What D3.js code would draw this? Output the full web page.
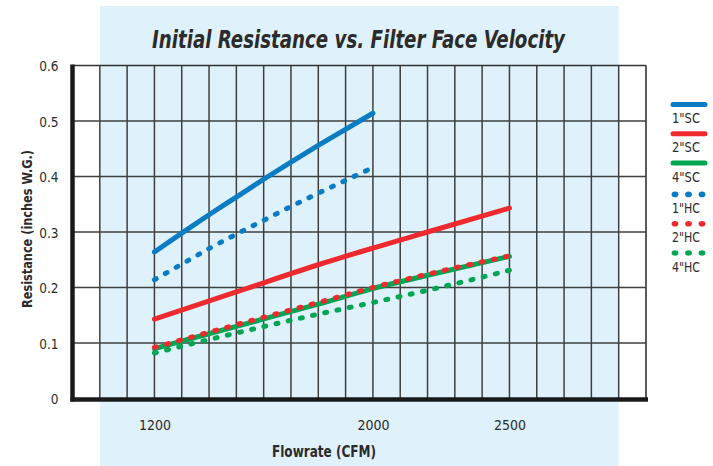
<!DOCTYPE html>
<html><head><meta charset="utf-8">
<script src="https://cdn.jsdelivr.net/npm/d3@7"></script>
<style>
html,body{margin:0;padding:0;background:#fff;}
svg{display:block;}
text{font-family:"Liberation Sans Narrow","DejaVu Sans Condensed","Roboto Condensed","Open Sans",sans-serif;fill:#2b2b2b;}
</style></head>
<body>
<svg id="chart" width="713" height="466"></svg>
<script>
const titleText = "Initial Resistance vs. Filter Face Velocity";
const xTitle = "Flowrate (CFM)";
const yTitle = "Resistance (inches W.G.)";
const xTickLabels = [1200, 2000, 2500];
const yTickLabels = [0, 0.1, 0.2, 0.3, 0.4, 0.5, 0.6];

const flowSC1 = [1200, 1300, 1400, 1500, 1600, 1700, 1800, 1900, 2000];
const sc1 = [0.264, 0.298, 0.331, 0.363, 0.395, 0.426, 0.456, 0.485, 0.514];
const flowHC1 = [1200, 1300, 1400, 1500, 1600, 1700, 1800, 1900, 2000];
const hc1 = [0.214, 0.242, 0.270, 0.296, 0.321, 0.346, 0.370, 0.393, 0.416];
const flowLong = [1200, 1500, 1800, 2000, 2200, 2500];
const sc2 = [0.143, 0.192, 0.241, 0.271, 0.300, 0.343];
const sc4 = [0.090, 0.130, 0.170, 0.198, 0.222, 0.256];
const hc2 = [0.092, 0.133, 0.173, 0.200, 0.224, 0.257];
const hc4 = [0.082, 0.118, 0.152, 0.173, 0.195, 0.231];

const seriesNames = ['1"SC', '2"SC', '4"SC', '1"HC', '2"HC', '4"HC'];
const seriesColors = ["#0a7cc4", "#ee2a2f", "#00a651", "#0a7cc4", "#ee2a2f", "#00a651"];
const seriesDotted = [false, false, false, true, true, true];

const series = [
  {x: flowSC1, y: sc1}, {x: flowLong, y: sc2}, {x: flowLong, y: sc4},
  {x: flowHC1, y: hc1}, {x: flowLong, y: hc2}, {x: flowLong, y: hc4}
];

const svg = d3.select("#chart");
const x = d3.scaleLinear().domain([900, 3000]).range([72.5, 646]);
const y = d3.scaleLinear().domain([0, 0.6]).range([398.5, 65.5]);

// light blue backdrop
svg.append("rect").attr("x", x(1000)).attr("y", 6)
  .attr("width", x(2900) - x(1000)).attr("height", 460).attr("fill", "#dff1fb");

// grid
const g = svg.append("g");
g.selectAll("line.v").data(d3.range(1000, 3000, 100)).join("line")
  .attr("x1", d => x(d)).attr("x2", d => x(d)).attr("y1", y(0.6)).attr("y2", y(0))
  .attr("stroke", "#3f3f3f").attr("stroke-width", 1.5);
g.selectAll("line.h").data(d3.range(1, 6).map(i => i / 10)).join("line")
  .attr("x1", x(900)).attr("x2", x(3000)).attr("y1", d => y(d)).attr("y2", d => y(d))
  .attr("stroke", "#3f3f3f").attr("stroke-width", 1.5);
// frame top/right
g.append("line").attr("x1", x(900)).attr("x2", x(3000)).attr("y1", y(0.6)).attr("y2", y(0.6))
  .attr("stroke", "#333").attr("stroke-width", 1.6);
g.append("line").attr("x1", x(3000)).attr("x2", x(3000)).attr("y1", y(0.6)).attr("y2", y(0))
  .attr("stroke", "#333").attr("stroke-width", 1.6);

// y axis
const yAxis = d3.axisLeft(y).tickValues(yTickLabels).tickSize(0).tickPadding(14)
  .tickFormat(d => d === 0 ? "0" : d3.format(".1f")(d));
const ya = svg.append("g").attr("transform", `translate(${x(900)},0)`).call(yAxis);
ya.select(".domain").remove();
ya.selectAll("text").attr("font-size", 13.5).attr("fill", "#333").attr("dy", "0.4em");
svg.append("line").attr("x1", x(900)).attr("x2", x(900)).attr("y1", y(0.6) - 1).attr("y2", y(0) + 3)
  .attr("stroke", "#1a1a1a").attr("stroke-width", 4.5);

// x axis
const xAxis = d3.axisBottom(x).tickValues(xTickLabels).tickSize(0).tickPadding(22)
  .tickFormat(d3.format("d"));
const xa = svg.append("g").attr("transform", `translate(0,${y(0)})`).call(xAxis);
xa.select(".domain").remove();
xa.selectAll("text").attr("font-size", 14).attr("fill", "#333");
svg.append("line").attr("x1", x(900) - 2).attr("x2", x(3000) + 2).attr("y1", y(0) + 1).attr("y2", y(0) + 1)
  .attr("stroke", "#1a1a1a").attr("stroke-width", 4.5);

// series
const line = d3.line().x(d => x(d[0])).y(d => y(d[1])).curve(d3.curveMonotoneX);
const order = [0, 1, 2, 3, 5, 4];
order.forEach(i => {
  const s = series[i];
  const pts = s.x.map((v, k) => [v, s.y[k]]);
  const p = svg.append("path").datum(pts).attr("d", line)
    .attr("fill", "none").attr("stroke", seriesColors[i]).attr("stroke-width", 5)
    .attr("stroke-linecap", "round");
  if (seriesDotted[i]) p.attr("stroke-dasharray", "2,10.5");
});

// legend
const lg = svg.append("g");
seriesNames.forEach((name, i) => {
  const ly = 104.5 + i * 29.3 + (i >= 3 ? 2 : 0);
  if (seriesDotted[i]) {
    [675, 688.5, 702].forEach(cx => lg.append("ellipse").attr("cx", cx).attr("cy", ly)
      .attr("rx", 3.4).attr("ry", 2.8).attr("fill", seriesColors[i]));
  } else {
    lg.append("line").attr("x1", 673).attr("x2", 705).attr("y1", ly).attr("y2", ly)
      .attr("stroke", seriesColors[i]).attr("stroke-width", 5).attr("stroke-linecap", "round");
  }
  lg.append("text").attr("x", 672).attr("y", ly + 18.5).attr("font-size", 14.5).attr("fill", "#333")
    .attr("textLength", 28).attr("lengthAdjust", "spacingAndGlyphs").text(name);
});

// titles
svg.append("text").attr("x", 152).attr("y", 48).attr("font-size", 25).attr("font-weight", "bold")
  .attr("font-style", "italic").attr("fill", "#222")
  .attr("textLength", 413).attr("lengthAdjust", "spacingAndGlyphs").text(titleText);
svg.append("text").attr("x", 272).attr("y", 457).attr("font-size", 15).attr("font-weight", "bold")
  .attr("fill", "#222").attr("textLength", 104).attr("lengthAdjust", "spacingAndGlyphs").text(xTitle);
svg.append("text").attr("transform", "translate(32,308) rotate(-90)").attr("font-size", 14.5)
  .attr("font-weight", "bold").attr("fill", "#222")
  .attr("textLength", 158).attr("lengthAdjust", "spacingAndGlyphs").text(yTitle);
</script>
</body></html>
